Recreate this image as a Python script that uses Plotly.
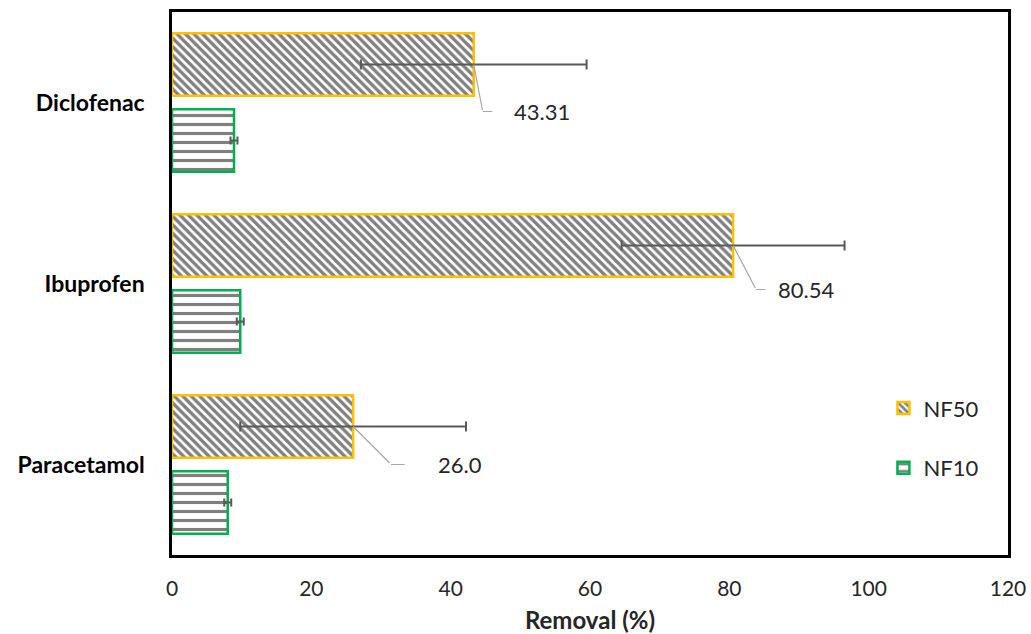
import plotly.graph_objects as go

categories = ["Paracetamol", "Ibuprofen", "Diclofenac"]
nf10_values = [8.0, 9.8, 8.9]
nf10_errors = [0.5, 0.5, 0.5]
nf50_values = [26.0, 80.54, 43.31]
nf50_errors = [16.2, 16.0, 16.2]
nf50_labels = ["26.0", "80.54", "43.31"]
x_ticks = [0, 20, 40, 60, 80, 100, 120]

FONT = "Lato"
# leader-line style offsets (pixels): diagonal dx, dy, horizontal length, gap to text
leader_style = [
    dict(dx=38, dy=38, hx=15, gap=30),
    dict(dx=23, dy=44, hx=11, gap=9),
    dict(dx=9, dy=47, hx=11, gap=18),
]

fig = go.Figure()
fig.add_trace(go.Bar(
    y=categories, x=nf10_values, orientation="h", name="NF10",
    legendgroup="a", legendrank=2,
    marker=dict(color="white", line=dict(color="#00B050", width=2.5),
                pattern=dict(shape="-", fgcolor="black", bgcolor="white",
                             size=9, solidity=0.35)),
    error_x=dict(type="data", array=nf10_errors, color="#595959",
                 thickness=2, width=4),
))
fig.add_trace(go.Bar(
    y=categories, x=nf50_values, orientation="h", name="NF50",
    legendgroup="b", legendrank=1,
    marker=dict(color="white", line=dict(color="#FFC000", width=2.5),
                pattern=dict(shape="\\", fgcolor="black", bgcolor="white",
                             size=6, solidity=0.55)),
    error_x=dict(type="data", array=nf50_errors, color="#595959",
                 thickness=2, width=5),
))

off = 0.21
for i, (v, lab) in enumerate(zip(nf50_values, nf50_labels)):
    s = leader_style[i]
    fig.add_annotation(x=v, y=i + off, xref="x", yref="y", text="",
                       showarrow=True, arrowhead=0, arrowwidth=1.2,
                       arrowcolor="#A6A6A6", ax=s["dx"], ay=s["dy"])
    fig.add_annotation(x=v, y=i + off, xref="x", yref="y", text="",
                       xshift=s["dx"], yshift=-s["dy"],
                       showarrow=True, arrowhead=0, arrowwidth=1.2,
                       arrowcolor="#A6A6A6", ax=s["hx"], ay=0)
    fig.add_annotation(x=v, y=i + off, xref="x", yref="y", text=lab,
                       xshift=s["dx"] + s["hx"] + s["gap"], yshift=-s["dy"],
                       showarrow=False, xanchor="left", yanchor="middle",
                       font=dict(family=FONT, size=22, color="#262626"))

fig.update_layout(
    width=1031, height=634,
    margin=dict(l=172, r=23, t=12, b=79),
    paper_bgcolor="white", plot_bgcolor="white",
    barmode="group", bargap=0.16, bargroupgap=0.18,
    font=dict(family=FONT, color="#262626"),
    legend=dict(x=0.851, y=0.215, xanchor="left", yanchor="middle",
                traceorder="grouped", tracegroupgap=28,
                font=dict(family=FONT, size=22, color="#262626"),
                bgcolor="rgba(0,0,0,0)"),
    xaxis=dict(range=[0, 120], tickvals=x_ticks, showgrid=False,
               zeroline=False, showline=True, linecolor="black",
               linewidth=2.5, mirror=True, ticks="", automargin=False,
               ticklabelstandoff=13,
               tickfont=dict(family=FONT, size=21, color="#262626"),
               title=dict(text="<b>Removal (%)</b>", standoff=23,
                          font=dict(family=FONT, size=24, color="#262626"))),
    yaxis=dict(showgrid=False, zeroline=False, showline=True,
               linecolor="black", linewidth=2.5, mirror=True, ticks="",
               automargin=False, ticklabelstandoff=20,
               tickmode="array", tickvals=categories,
               ticktext=["<b>%s</b>" % c for c in categories],
               tickfont=dict(family=FONT, size=23, color="black")),
)

fig.write_html("out.html")
